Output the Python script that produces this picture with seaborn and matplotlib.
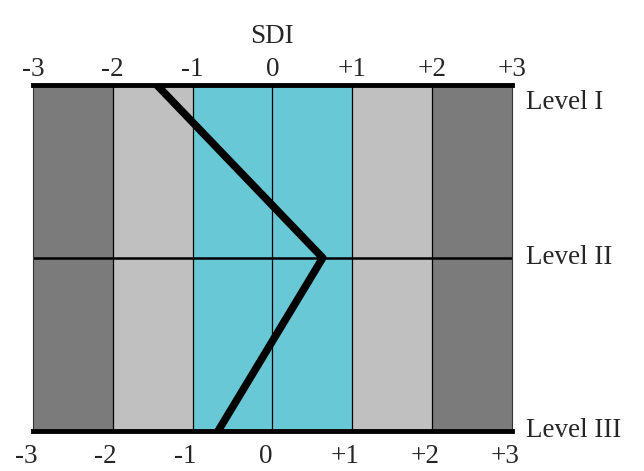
import numpy as np
import pandas as pd
import matplotlib
matplotlib.use("Agg")
import matplotlib.pyplot as plt
import matplotlib.transforms as mtransforms
import seaborn as sns

# veri
sdi_ticks = [-3, -2, -1, 0, 1, 2, 3]
tick_labels = ["-3", "-2", "-1", "0", "+1", "+2", "+3"]
band_edges = [-3, -2, -1, 1, 2, 3]
band_colors = ["#7b7b7b", "#c0c0c0", "#68c8d6", "#c0c0c0", "#7b7b7b"]
levels = ["Level I", "Level II", "Level III"]
level_pos = [0, 1, 2]
sdi_values = [-1.45, 0.63, -0.68]

sns.set_style("white")
plt.rcParams["font.family"] = ["Liberation Serif", "DejaVu Serif"]

fig = plt.figure(figsize=(6.44, 4.71), dpi=100)
ax = fig.add_axes([0.051, 0.085, 0.744, 0.735])

# renkli bantlar
for i in range(len(band_colors)):
    ax.axvspan(band_edges[i], band_edges[i + 1], color=band_colors[i], lw=0, zorder=0)

# dikey ince cizgiler ve orta seviye cizgisi
for x in sdi_ticks[1:-1]:
    ax.axvline(x, color="black", lw=0.9, zorder=1)
ax.axhline(level_pos[1], color="black", lw=1.8, zorder=1)

df = pd.DataFrame({"SDI": sdi_values, "pos": level_pos})
sns.lineplot(data=df, x="SDI", y="pos", sort=False, estimator=None,
             color="black", lw=5.5, ax=ax, zorder=3)

ax.set_xlim(-3, 3)
ax.set_ylim(2, 0)
ax.set_yticks([])
ax.set_xlabel("")
ax.set_ylabel("")

for side in ["top", "bottom"]:
    ax.spines[side].set_linewidth(3.5)
    ax.spines[side].set_color("black")
for side in ["left", "right"]:
    ax.spines[side].set_linewidth(0.8)
    ax.spines[side].set_color("#333333")

ax.set_xticks(sdi_ticks)
ax.set_xticklabels(tick_labels, fontsize=19.5)
ax.tick_params(axis="x", which="both", length=0, top=True, labeltop=True, pad=5)
# alt etiketler biraz sola ve asagi, ust etiketler biraz asagi
off_bottom = mtransforms.ScaledTranslation(-7 / 100, -6 / 100, fig.dpi_scale_trans)
off_top = mtransforms.ScaledTranslation(0, -4 / 100, fig.dpi_scale_trans)
for t in ax.xaxis.get_major_ticks():
    t.label1.set_transform(t.label1.get_transform() + off_bottom)
    t.label2.set_transform(t.label2.get_transform() + off_top)

ax.set_title("SDI", fontsize=19.5, pad=30)

# seviye etiketleri
level_offsets = [-0.1, 0.0, 0.0]
for name, p, o in zip(levels, level_pos, level_offsets):
    ax.text(1.03, p - o, name, transform=ax.get_yaxis_transform(),
            fontsize=19.5, va="center", ha="left")

plt.savefig("out.png", dpi=100)
